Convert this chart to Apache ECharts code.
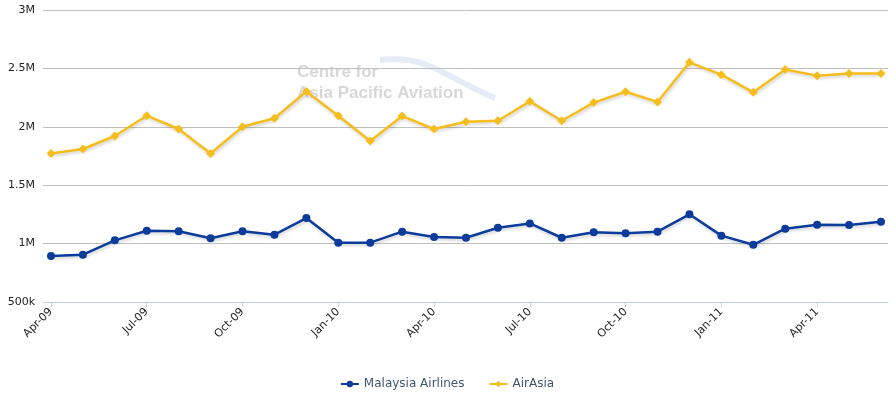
<!DOCTYPE html>
<html lang="en">
<head>
    <meta charset="UTF-8">
    <script src="https://cdn.jsdelivr.net/npm/echarts@6/dist/echarts.min.js"></script>
    <style>
        html, body { margin: 0; padding: 0; background: #fff; }
        #main { width: 894px; height: 399px; }
    </style>
</head>
<body>
    <div id="main"></div>
    <script>
        var months = ['Apr-09', 'May-09', 'Jun-09', 'Jul-09', 'Aug-09', 'Sep-09', 'Oct-09', 'Nov-09', 'Dec-09',
            'Jan-10', 'Feb-10', 'Mar-10', 'Apr-10', 'May-10', 'Jun-10', 'Jul-10', 'Aug-10', 'Sep-10',
            'Oct-10', 'Nov-10', 'Dec-10', 'Jan-11', 'Feb-11', 'Mar-11', 'Apr-11', 'May-11', 'Jun-11'];

        var malaysia = [894000, 905000, 1028000, 1110000, 1105000, 1045000, 1105000, 1076000, 1219000,
            1008000, 1008000, 1102000, 1057000, 1050000, 1136000, 1173000, 1050000, 1097000,
            1088000, 1102000, 1251000, 1068000, 990000, 1128000, 1162000, 1159000, 1187000];

        var airasia = [1772000, 1810000, 1921000, 2095000, 1981000, 1772000, 2000000, 2073000, 2302000,
            2095000, 1878000, 2092000, 1981000, 2044000, 2052000, 2218000, 2052000, 2207000,
            2300000, 2213000, 2552000, 2446000, 2295000, 2491000, 2438000, 2457000, 2457000];

        var tickIdx = [0, 3, 6, 9, 12, 15, 18, 21, 24];

        function pairs(arr) {
            return arr.map(function (v, i) { return [i, v]; });
        }

        var chart = echarts.init(document.getElementById('main'), null, { renderer: 'canvas' });

        var shadow = {
            shadowColor: 'rgba(0,0,0,0.18)',
            shadowBlur: 3,
            shadowOffsetX: 1,
            shadowOffsetY: 2
        };

        chart.setOption({
            animation: false,
            textStyle: { fontFamily: 'DejaVu Sans' },
            grid: { left: 43, right: 6, top: 10, bottom: 97, containLabel: false },
            graphic: [{
                type: 'bezierCurve',
                silent: true,
                shape: { x1: 380, y1: 60, x2: 495, y2: 98, cpx1: 430, cpy1: 55, cpx2: 440, cpy2: 75 },
                style: { stroke: 'rgba(150,180,215,0.25)', lineWidth: 6, fill: null }
            }, {
                type: 'text',
                left: 297,
                top: 62,
                silent: true,
                style: {
                    text: 'Centre for\nAsia Pacific Aviation',
                    font: 'bold 17px "Liberation Sans"',
                    lineHeight: 21,
                    fill: 'rgba(175,175,175,0.5)'
                }
            }],
            legend: {
                bottom: 4,
                left: 'center',
                itemWidth: 18,
                itemHeight: 8,
                itemGap: 24,
                textStyle: { color: '#3e576f', fontSize: 12, fontFamily: 'DejaVu Sans' },
                data: ['Malaysia Airlines', 'AirAsia']
            },
            xAxis: {
                type: 'value',
                min: -0.25,
                max: 26.22,
                splitLine: { show: false },
                axisLine: { show: true, lineStyle: { color: '#c0d0e0', width: 1 } },
                axisTick: { show: true, length: 5, customValues: tickIdx, lineStyle: { color: '#c0d0e0' } },
                axisLabel: {
                    customValues: tickIdx,
                    rotate: 45,
                    margin: 8,
                    color: '#222',
                    fontSize: 11,
                    formatter: function (v) { return months[Math.round(v)]; }
                }
            },
            yAxis: {
                type: 'value',
                min: 500000,
                max: 3000000,
                interval: 500000,
                axisLine: { show: false },
                axisTick: { show: false },
                splitLine: { lineStyle: { color: '#c0c0c0', width: 1 } },
                axisLabel: {
                    color: '#222',
                    fontSize: 11,
                    margin: 8,
                    formatter: function (v) {
                        if (v >= 1000000) return (v / 1000000) + 'M';
                        return (v / 1000) + 'k';
                    }
                }
            },
            series: [{
                name: 'Malaysia Airlines',
                type: 'line',
                data: pairs(malaysia),
                symbol: 'circle',
                symbolSize: 8,
                color: '#0b3b9b',
                lineStyle: Object.assign({ width: 2.5, color: '#0b3b9b' }, shadow),
                itemStyle: { color: '#0b3b9b' }
            }, {
                name: 'AirAsia',
                type: 'line',
                data: pairs(airasia),
                symbol: 'diamond',
                symbolSize: 9,
                color: '#f6bd1c',
                lineStyle: Object.assign({ width: 2.5, color: '#f6bd1c' }, shadow),
                itemStyle: { color: '#f6bd1c' }
            }]
        });
    </script>
</body>
</html>
